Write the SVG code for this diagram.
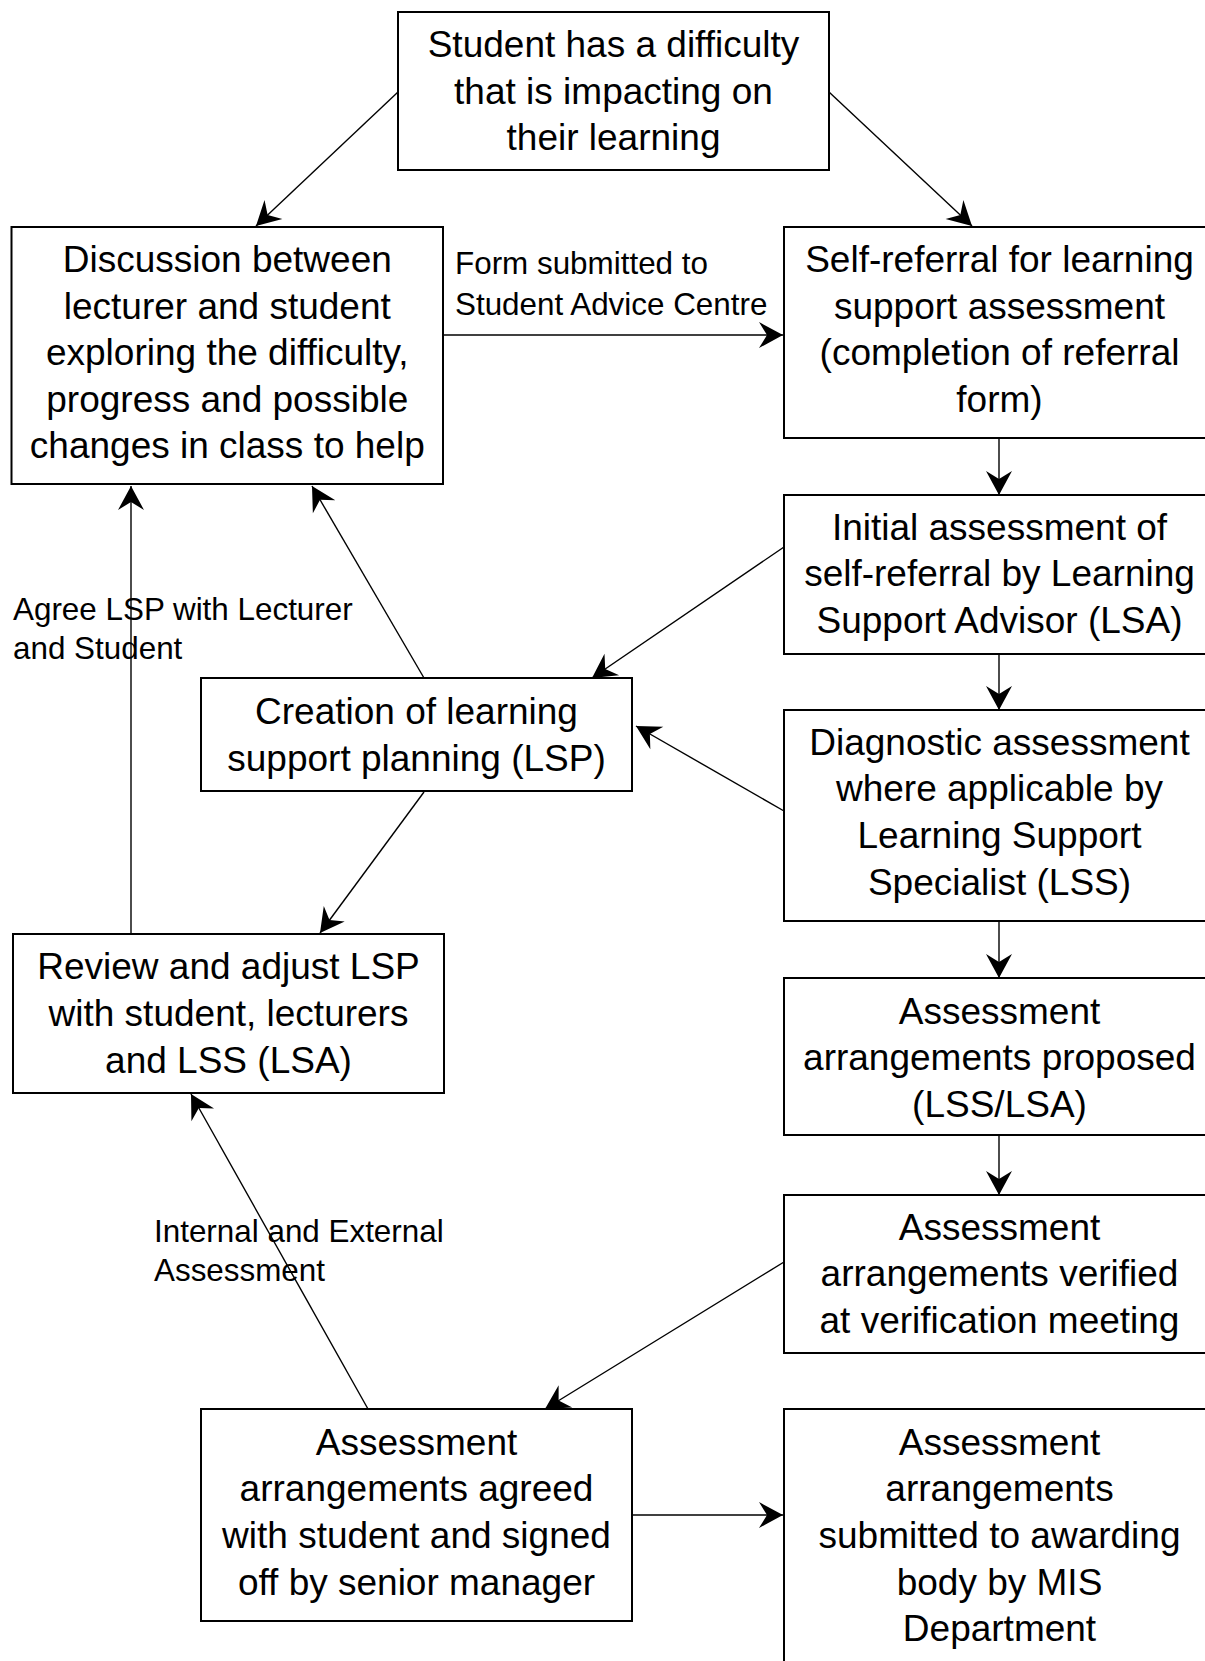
<svg xmlns="http://www.w3.org/2000/svg" width="1205" height="1661" viewBox="0 0 1205 1661">
<style>
.box{fill:#fff;stroke:#000;stroke-width:2}
.t{font-family:"Liberation Sans",Arial,sans-serif;font-size:37px;fill:#000;text-anchor:middle}
.lbl{font-family:"Liberation Sans",Arial,sans-serif;font-size:31.4px;fill:#000}
.c{fill:none;stroke:#000;stroke-width:1.4;marker-end:url(#arr)}
</style>
<defs>
<marker id="arr" markerUnits="userSpaceOnUse" markerWidth="30" markerHeight="30" refX="25" refY="13" orient="auto" viewBox="0 0 30 26">
<path d="M25,13 L1,0 L9,13 L1,26 Z" fill="#000"/>
</marker>
</defs>
<rect width="1205" height="1661" fill="#fff"/>
<g id="connectors">
<path class="c" d="M398,92 L256,226"/>
<path class="c" d="M829,92 L972,226"/>
<path class="c" d="M443,335 L783,335"/>
<path class="c" d="M999,439 L999,495"/>
<path class="c" d="M999,654 L999,710"/>
<path class="c" d="M999,921 L999,978"/>
<path class="c" d="M999,1135 L999,1195"/>
<path class="c" d="M784,547 L592,678"/>
<path class="c" d="M784,811 L636,726"/>
<path class="c" d="M424,678 L312,486"/>
<path class="c" d="M131,934 L131,486"/>
<path class="c" d="M424,792 L320,933"/>
<path class="c" d="M784,1262 L545,1409"/>
<path class="c" d="M368,1409 L191,1094"/>
<path class="c" d="M632,1515 L783,1515"/>
<text class="lbl" x="455" y="274">Form submitted to</text>
<text class="lbl" x="455" y="315">Student Advice Centre</text>
<text class="lbl" x="13" y="620">Agree LSP with Lecturer</text>
<text class="lbl" x="13" y="659">and Student</text>
<text class="lbl" x="154" y="1242">Internal and External</text>
<text class="lbl" x="154" y="1281">Assessment</text>
</g>
<g id="n-student">
<rect class="box" x="398" y="12" width="431" height="158"/>
<text class="t" x="613.5" y="57">Student has a difficulty</text>
<text class="t" x="613.5" y="103.6">that is impacting on</text>
<text class="t" x="613.5" y="150.2">their learning</text>
</g>
<g id="n-discussion">
<rect class="box" x="11.5" y="227" width="431.5" height="257"/>
<text class="t" x="227.3" y="272">Discussion between</text>
<text class="t" x="227.3" y="318.5">lecturer and student</text>
<text class="t" x="227.3" y="365">exploring the difficulty,</text>
<text class="t" x="227.3" y="411.7">progress and possible</text>
<text class="t" x="227.3" y="458.3">changes in class to help</text>
</g>
<g id="n-selfref">
<rect class="box" x="784" y="227" width="431" height="211"/>
<text class="t" x="999.5" y="272">Self-referral for learning</text>
<text class="t" x="999.5" y="318.5">support assessment</text>
<text class="t" x="999.5" y="365">(completion of referral</text>
<text class="t" x="999.5" y="411.7">form)</text>
</g>
<g id="n-initial">
<rect class="box" x="784" y="495" width="431" height="159"/>
<text class="t" x="999.5" y="539.8">Initial assessment of</text>
<text class="t" x="999.5" y="586.4">self-referral by Learning</text>
<text class="t" x="999.5" y="633">Support Advisor (LSA)</text>
</g>
<g id="n-diagnostic">
<rect class="box" x="784" y="710" width="431" height="211"/>
<text class="t" x="999.5" y="754.8">Diagnostic assessment</text>
<text class="t" x="999.5" y="801.4">where applicable by</text>
<text class="t" x="999.5" y="848">Learning Support</text>
<text class="t" x="999.5" y="894.5">Specialist (LSS)</text>
</g>
<g id="n-creation">
<rect class="box" x="201" y="678" width="431" height="113"/>
<text class="t" x="416.5" y="724">Creation of learning</text>
<text class="t" x="416.5" y="770.7">support planning (LSP)</text>
</g>
<g id="n-review">
<rect class="box" x="13" y="934" width="431" height="159"/>
<text class="t" x="228.5" y="979.3">Review and adjust LSP</text>
<text class="t" x="228.5" y="1025.9">with student, lecturers</text>
<text class="t" x="228.5" y="1072.5">and LSS (LSA)</text>
</g>
<g id="n-proposed">
<rect class="box" x="784" y="978" width="431" height="157"/>
<text class="t" x="999.5" y="1023.7">Assessment</text>
<text class="t" x="999.5" y="1070.3">arrangements proposed</text>
<text class="t" x="999.5" y="1117">(LSS/LSA)</text>
</g>
<g id="n-verified">
<rect class="box" x="784" y="1195" width="431" height="158"/>
<text class="t" x="999.5" y="1239.8">Assessment</text>
<text class="t" x="999.5" y="1286.4">arrangements verified</text>
<text class="t" x="999.5" y="1333">at verification meeting</text>
</g>
<g id="n-agreed">
<rect class="box" x="201" y="1409" width="431" height="212"/>
<text class="t" x="416.5" y="1454.7">Assessment</text>
<text class="t" x="416.5" y="1501.3">arrangements agreed</text>
<text class="t" x="416.5" y="1547.9">with student and signed</text>
<text class="t" x="416.5" y="1594.5">off by senior manager</text>
</g>
<g id="n-submitted">
<rect class="box" x="784" y="1409" width="431" height="270"/>
<text class="t" x="999.5" y="1454.7">Assessment</text>
<text class="t" x="999.5" y="1501.3">arrangements</text>
<text class="t" x="999.5" y="1547.9">submitted to awarding</text>
<text class="t" x="999.5" y="1594.5">body by MIS</text>
<text class="t" x="999.5" y="1641.1">Department</text>
</g>
</svg>
